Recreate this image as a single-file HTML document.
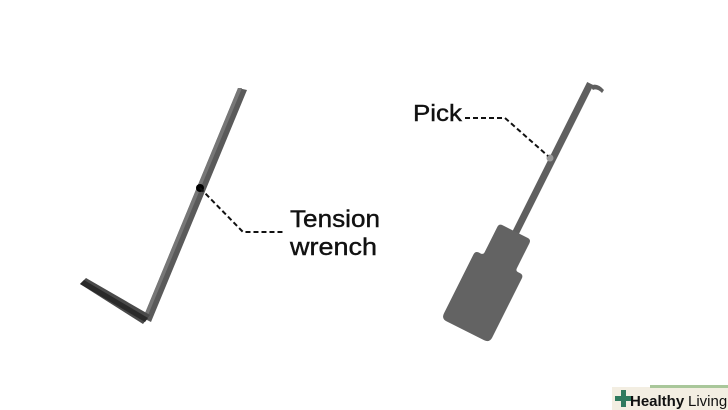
<!DOCTYPE html>
<html><head><meta charset="utf-8"><style>
html,body{margin:0;padding:0;background:#fff;}
svg{display:block}
text{font-family:"Liberation Sans",sans-serif;fill:#111;stroke:#111;stroke-width:0.4}
</style></head><body>
<svg width="728" height="410" viewBox="0 0 728 410" xmlns="http://www.w3.org/2000/svg">
<!-- tension wrench -->
<polygon points="238,88 247,90 151,322 143,318" fill="#5a5a5a"/>
<polygon points="238,88 242,88 146,320 143,318" fill="#777"/>
<polygon points="80,284 86,278 150,315 143,324" fill="#4a4a4a"/>
<polygon points="80,284 84,280 148,318 145,322" fill="#2a2a2a"/>
<circle cx="200" cy="188" r="4" fill="#000"/>
<polyline points="200,188 243,232 285,232" fill="none" stroke="#111" stroke-width="2" stroke-dasharray="5,3"/>
<text x="290" y="227" font-size="24" textLength="90" lengthAdjust="spacingAndGlyphs">Tension</text>
<text x="290" y="255" font-size="24" textLength="87" lengthAdjust="spacingAndGlyphs">wrench</text>
<!-- pick -->
<g transform="translate(516,232) rotate(26.6)">
<rect x="-3.5" y="-166" width="7" height="170" fill="#5f5f5f"/>
<path d="M-13,0 h26 q4,0 4,4 v28 q0,3 3,3 h2 q4,0 4,4 v66 q0,6 -6,6 h-42 q-6,0 -6,-6 v-66 q0,-4 4,-4 h2 q3,0 3,-3 v-28 q0,-4 4,-4 z" fill="#636363"/>
</g>
<path d="M590,86 Q597,82 604,90 L602,93 Q597,88 593,90 Z" fill="#5f5f5f"/>
<circle cx="550" cy="158" r="3.5" fill="#999"/>
<polyline points="465,118 505,118 548,156" fill="none" stroke="#111" stroke-width="2" stroke-dasharray="5,3"/>
<text x="413" y="121" font-size="23" textLength="49" lengthAdjust="spacingAndGlyphs">Pick</text>
<!-- logo -->
<rect x="612" y="387" width="116" height="23" fill="#f3eee2"/>
<rect x="650" y="385" width="78" height="3" fill="#a9c79a"/>
<rect x="615" y="396" width="17" height="5" fill="#2f7a5e"/>
<rect x="621" y="390" width="5" height="17" fill="#2f7a5e"/>
<text x="630" y="406" font-size="15" font-weight="bold" fill="#333" style="stroke:none">Healthy</text>
<text x="688" y="406" font-size="15" fill="#444" style="stroke:none">Living</text>
</svg>
</body></html>
